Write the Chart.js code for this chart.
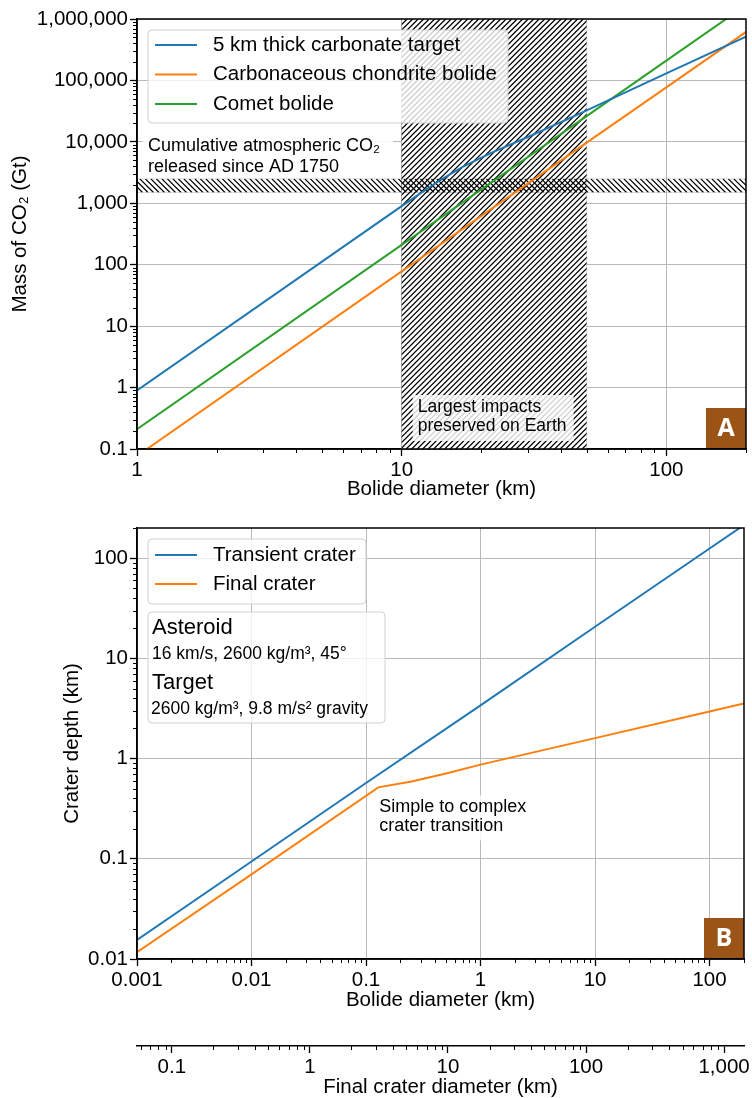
<!DOCTYPE html>
<html><head><meta charset="utf-8">
<script src="https://cdn.jsdelivr.net/npm/chart.js@4/dist/chart.umd.min.js"></script>
<style>
html,body{margin:0;padding:0;background:#fff;}
#wrap{position:relative;width:752px;height:1098px;overflow:hidden;background:#fff;}
canvas{position:absolute;left:0;}
</style></head><body>
<div id="wrap">
<canvas id="c1" width="752" height="505" style="top:0"></canvas>
<canvas id="c2" width="752" height="593" style="top:505px"></canvas>
</div>
<script>
// ---------- Panel A data ----------
const bolideCarbonate = [1, 5, 10, 12, 14, 17, 21.6, 30, 47.3, 100, 200];
const massCarbonate   = [0.9, 112, 900, 1530, 2390, 3900, 6500, 12000, 29100, 130000, 515000];
const bolideChondrite = [1, 10, 50, 100, 200];
const massChondrite   = [0.077, 78, 9700, 77000, 616000];
const bolideComet     = [1, 10, 100, 200];
const massComet       = [0.21, 210, 210000, 1680000];
const largestImpactRange = [10, 50];      // km
const cumulativeCO2Range = [1500, 2500];  // Gt
const bolideTicksA = [1, 10, 100];
const massTicks = [0.1, 1, 10, 100, 1000, 10000, 100000, 1000000];
const bolideRangeA = [1, 200];
const massRange = [0.1, 1000000];

// ---------- Panel B data ----------
const bolideTransient = [0.001, 0.01, 0.1, 1, 10, 100, 200];
const depthTransient  = [0.0155, 0.094, 0.57, 3.4, 20.7, 125, 214];
const bolideFinal = [0.001, 0.01, 0.128, 0.25, 0.5, 1, 10, 100, 200];
const depthFinal  = [0.0117, 0.07, 0.516, 0.59, 0.71, 0.87, 1.6, 2.95, 3.55];
const transitionPoint = [0.128, 0.516];
const bolideTicksB = [0.001, 0.01, 0.1, 1, 10, 100];
const depthTicks = [0.01, 0.1, 1, 10, 100];
const craterTicks = [0.1, 1, 10, 100, 1000];
const bolideRangeB = [0.001, 200];
const depthRange = [0.01, 200];
const craterRange = [0.0559, 1394];
const minorSteps = [2, 3, 4, 5, 6, 7, 8, 9];

const FONT = '"Liberation Sans", Arial, "DejaVu Sans", sans-serif';
Chart.defaults.font.family = FONT;
Chart.defaults.color = '#000';
const BLUE = '#1f77b4', ORANGE = '#ff7f0e', GREEN = '#2ca02c', BROWN = '#9b5316';
const FS = 20.5;

const pts = (xs, ys) => xs.map((x, i) => ({x, y: ys[i]}));
const fmt = v => Number(v).toLocaleString('en-US', {maximumFractionDigits: 4});

function logAxis(o) {
  return {
    type: 'logarithmic', min: o.range[0], max: o.range[1],
    position: o.position, weight: o.weight || 0,
    afterBuildTicks: s => { s.ticks = o.ticks.map(v => ({value: v, major: true})); },
    afterFit: s => { if (o.horizontal) s.height = o.size; else s.width = o.size; },
    ticks: {font: {size: FS}, color: '#000', padding: 2, autoSkip: false, maxRotation: 0, minRotation: 0, callback: v => fmt(v)},
    grid: {display: true, drawOnChartArea: o.grid !== false, color: '#b8b8b8', lineWidth: 1, tickColor: '#000', tickLength: 7, tickWidth: 1.3},
    border: {display: true, color: '#000', width: 1.5},
    title: {display: true, text: o.title, font: {size: FS}, color: '#000', padding: o.titlePad}
  };
}

const minorTicks = {
  id: 'minorTicks',
  afterDraw(chart) {
    const ctx = chart.ctx;
    ctx.save(); ctx.strokeStyle = '#000'; ctx.lineWidth = 1;
    for (const s of Object.values(chart.scales)) {
      const lo = Math.floor(Math.log10(s.min)), hi = Math.ceil(Math.log10(s.max));
      for (let e = lo; e <= hi; e++) for (const k of minorSteps) {
        const v = k * Math.pow(10, e);
        if (v < s.min * 0.9999 || v > s.max * 1.0001) continue;
        const p = Math.round(s.getPixelForValue(v)) + 0.5;
        ctx.beginPath();
        if (s.isHorizontal()) { ctx.moveTo(p, s.top); ctx.lineTo(p, s.top + 4); }
        else { ctx.moveTo(s.right, p); ctx.lineTo(s.right - 4, p); }
        ctx.stroke();
      }
    }
    ctx.restore();
  }
};

function hatch(ctx, x0, y0, w, h, dir, gap) {
  ctx.save();
  ctx.beginPath(); ctx.rect(x0, y0, w, h); ctx.clip();
  ctx.strokeStyle = '#000'; ctx.lineWidth = 1.25;
  ctx.beginPath();
  for (let c = -h; c < w + h; c += gap) {
    if (dir > 0) { ctx.moveTo(x0 + c, y0 + h); ctx.lineTo(x0 + c + h, y0); }
    else { ctx.moveTo(x0 + c, y0); ctx.lineTo(x0 + c + h, y0 + h); }
  }
  ctx.stroke();
  ctx.restore();
}

function roundBox(ctx, x, y, w, h, fill, stroke) {
  ctx.save();
  ctx.beginPath();
  ctx.roundRect(x, y, w, h, 4);
  ctx.fillStyle = fill; ctx.fill();
  if (stroke) { ctx.strokeStyle = stroke; ctx.lineWidth = 1; ctx.stroke(); }
  ctx.restore();
}

function drawLegend(chart, x, y, w, h, rowOffsets) {
  const ctx = chart.ctx;
  roundBox(ctx, x, y, w, h, 'rgba(255,255,255,0.8)', '#d0d0d0');
  ctx.save();
  ctx.font = FS + 'px ' + FONT; ctx.textBaseline = 'middle'; ctx.fillStyle = '#000';
  chart.data.datasets.forEach((ds, i) => {
    const yy = y + rowOffsets[i];
    ctx.strokeStyle = ds.borderColor; ctx.lineWidth = 2;
    ctx.beginPath(); ctx.moveTo(x + 7, yy); ctx.lineTo(x + 49, yy); ctx.stroke();
    ctx.fillText(ds.label, x + 65, yy);
  });
  ctx.restore();
}

function texts(ctx, items) {
  ctx.save(); ctx.fillStyle = '#000'; ctx.textBaseline = 'middle';
  for (const t of items) { ctx.font = t.font; ctx.fillText(t.text, t.x, t.y); }
  ctx.restore();
}

function panelLabel(ctx, a, letter) {
  ctx.save();
  ctx.fillStyle = BROWN;
  ctx.fillRect(a.right - 40, a.bottom - 41, 40, 40);
  ctx.fillStyle = '#fff'; ctx.font = 'bold 25px "Open Sans", ' + FONT;
  ctx.textAlign = 'center'; ctx.textBaseline = 'middle';
  ctx.fillText(letter, a.right - 20, a.bottom - 20);
  ctx.restore();
}

function frame(ctx, a) {
  ctx.save(); ctx.strokeStyle = '#000'; ctx.lineWidth = 1.5;
  ctx.strokeRect(a.left, a.top, a.right - a.left, a.bottom - a.top);
  ctx.restore();
}

// ---------- Panel A ----------
const bandsA = {
  id: 'bandsA',
  beforeDatasetsDraw(chart) {
    const {ctx, chartArea: a, scales: {x, y}} = chart;
    const x1 = x.getPixelForValue(largestImpactRange[0]), x2 = x.getPixelForValue(largestImpactRange[1]);
    ctx.save(); ctx.fillStyle = '#fff'; ctx.fillRect(x1, a.top, x2 - x1, a.bottom - a.top); ctx.restore();
    hatch(ctx, x1, a.top, x2 - x1, a.bottom - a.top, 1, 5.5);
    const y1 = y.getPixelForValue(cumulativeCO2Range[1]), y2 = y.getPixelForValue(cumulativeCO2Range[0]);
    hatch(ctx, a.left, y1, a.right - a.left, y2 - y1, -1, 5.5);
    ctx.save(); ctx.strokeStyle = 'rgba(0,0,0,0.15)'; ctx.lineWidth = 1;
    ctx.strokeRect(x1, a.top, x2 - x1, a.bottom - a.top);
    ctx.strokeRect(a.left, y1, a.right - a.left, y2 - y1);
    ctx.restore();
  }
};

const overlayA = {
  id: 'overlayA',
  afterDatasetsDraw(chart) {
    const {ctx, chartArea: a, scales: {x, y}} = chart;
    const yBand = y.getPixelForValue(cumulativeCO2Range[1]);
    ctx.save(); ctx.fillStyle = 'rgba(255,255,255,0.85)';
    ctx.fillRect(a.left + 6, yBand - 45, 250, 43); ctx.restore();
    texts(ctx, [
      {text: 'Cumulative atmospheric CO₂', x: a.left + 11, y: yBand - 33, font: '18px ' + FONT},
      {text: 'released since AD 1750', x: a.left + 11, y: yBand - 12, font: '18px ' + FONT}
    ]);
    const xb = x.getPixelForValue(largestImpactRange[0]);
    ctx.save(); ctx.fillStyle = 'rgba(255,255,255,0.82)';
    ctx.fillRect(xb + 11, a.bottom - 54, 161, 46); ctx.restore();
    texts(ctx, [
      {text: 'Largest impacts', x: xb + 16, y: a.bottom - 42, font: '17.5px ' + FONT},
      {text: 'preserved on Earth', x: xb + 16, y: a.bottom - 23, font: '17.5px ' + FONT}
    ]);
    drawLegend(chart, a.left + 11, a.top + 11, 360, 93, [15, 44.5, 74]);
    panelLabel(ctx, a, 'A');
    frame(ctx, a);
  }
};

new Chart(document.getElementById('c1'), {
  type: 'scatter',
  data: {datasets: [
    {label: '5 km thick carbonate target', data: pts(bolideCarbonate, massCarbonate), borderColor: BLUE},
    {label: 'Carbonaceous chondrite bolide', data: pts(bolideChondrite, massChondrite), borderColor: ORANGE},
    {label: 'Comet bolide', data: pts(bolideComet, massComet), borderColor: GREEN}
  ]},
  options: {
    responsive: false, animation: false, devicePixelRatio: 1,
    layout: {padding: {top: 19, right: 6, left: 0, bottom: 0}},
    datasets: {scatter: {showLine: true, pointRadius: 0, borderWidth: 2, tension: 0, clip: 0}},
    plugins: {legend: {display: false}, tooltip: {enabled: false}},
    scales: {
      x: logAxis({range: bolideRangeA, ticks: bolideTicksA, horizontal: true, size: 56, position: 'bottom',
                  title: 'Bolide diameter (km)', titlePad: {top: 0, bottom: 3}}),
      y: logAxis({range: massRange, ticks: massTicks, horizontal: false, size: 137, position: 'left',
                  title: 'Mass of CO₂ (Gt)', titlePad: {top: 8, bottom: 0}})
    }
  },
  plugins: [bandsA, overlayA, minorTicks]
});

// ---------- Panel B ----------
const overlayB = {
  id: 'overlayB',
  afterDatasetsDraw(chart) {
    const {ctx, chartArea: a, scales: {x, y}} = chart;
    const kx = x.getPixelForValue(transitionPoint[0]), ky = y.getPixelForValue(transitionPoint[1]);
    ctx.save(); ctx.fillStyle = 'rgba(255,255,255,0.85)';
    ctx.fillRect(kx - 2, ky + 8, 152, 45); ctx.restore();
    texts(ctx, [
      {text: 'Simple to complex', x: kx + 1, y: ky + 20, font: '18px ' + FONT},
      {text: 'crater transition', x: kx + 1, y: ky + 39, font: '18px ' + FONT}
    ]);
    drawLegend(chart, a.left + 11, a.top + 11, 218, 65, [16, 45]);
    const bx = a.left + 11, by = a.top + 84;
    roundBox(ctx, bx, by, 237, 111, 'rgba(255,255,255,0.8)', '#d0d0d0');
    texts(ctx, [
      {text: 'Asteroid', x: bx + 4, y: by + 16, font: '22px ' + FONT},
      {text: '16 km/s, 2600 kg/m³, 45°', x: bx + 4, y: by + 42, font: '17.5px ' + FONT},
      {text: 'Target', x: bx + 4, y: by + 71, font: '22px ' + FONT},
      {text: '2600 kg/m³, 9.8 m/s² gravity', x: bx + 3, y: by + 97, font: '17.5px ' + FONT}
    ]);
    panelLabel(ctx, a, 'B');
    frame(ctx, a);
  }
};

new Chart(document.getElementById('c2'), {
  type: 'scatter',
  data: {datasets: [
    {label: 'Transient crater', data: pts(bolideTransient, depthTransient), borderColor: BLUE},
    {label: 'Final crater', data: pts(bolideFinal, depthFinal), borderColor: ORANGE}
  ]},
  options: {
    responsive: false, animation: false, devicePixelRatio: 1,
    layout: {padding: {top: 23, right: 6, left: 0, bottom: 0}},
    datasets: {scatter: {showLine: true, pointRadius: 0, borderWidth: 2, tension: 0, clip: 0}},
    plugins: {legend: {display: false}, tooltip: {enabled: false}},
    scales: {
      x: logAxis({range: bolideRangeB, ticks: bolideTicksB, horizontal: true, size: 87, position: 'bottom', weight: 0,
                  title: 'Bolide diameter (km)', titlePad: {top: 0, bottom: 33}}),
      xc: logAxis({range: craterRange, ticks: craterTicks, horizontal: true, size: 52, position: 'bottom', weight: 1,
                  grid: false, title: 'Final crater diameter (km)', titlePad: {top: 0, bottom: -2}}),
      y: logAxis({range: depthRange, ticks: depthTicks, horizontal: false, size: 137, position: 'left',
                  title: 'Crater depth (km)', titlePad: {top: 60, bottom: 0}})
    }
  },
  plugins: [overlayB, minorTicks]
});
</script>
</body></html>
